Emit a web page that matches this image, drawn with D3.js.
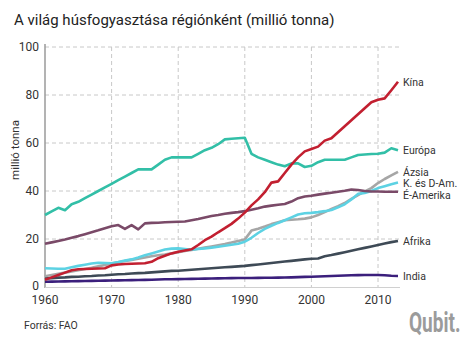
<!DOCTYPE html>
<html><head><meta charset="utf-8">
<script src="https://cdn.jsdelivr.net/npm/d3@7"></script>
<style>body{margin:0;background:#fff;}svg{display:block;font-family:Roboto,"Noto Sans",sans-serif;}</style>
</head><body>
<script>
const years = d3.range(1960, 2014);
const europe = [30,31.5,33,32,34.5,35.5,37,38.5,40,41.5,43,44.5,46,47.5,49,49,49,51,53,54,54,54,54,55.5,57,58,59.5,61.5,61.8,62,62.2,55.5,54,53,52,51,50.3,51.5,51.5,50,50.5,52,53,53,53,53,54,55,55.2,55.4,55.5,56,57.8,57];
const china = [3,4,5,6,7,7.4,7.5,7.6,7.7,7.8,9,9.4,9.6,9.7,9.8,9.9,10.5,12,13,14,14.7,15.2,15.7,17.5,19.5,21,22.8,24.5,26.3,28.5,31,34,36.5,39.5,43.5,44,47.5,51,54,56.5,57.5,58.5,61,62,64.5,67,69.5,72,74.5,77,78,78.6,82,85.5];
const northAm = [18,18.6,19.2,19.8,20.5,21.2,22,22.8,23.6,24.5,25.3,25.8,24.2,25.8,24,26.5,26.7,26.8,27,27.1,27.2,27.3,27.8,28.3,29,29.6,30,30.5,30.9,31.2,31.6,32.2,32.8,33.5,33.9,34.3,34.6,35.6,37,37.7,38,38.5,38.9,39.3,39.7,40.1,40.6,40.4,40,39.8,39.8,39.7,39.7,39.7];
const latinAm = [7.8,7.7,7.6,7.6,8.2,8.8,9.3,9.8,10.1,10,9.9,10.4,11,11.5,12.3,13.2,14,14.8,15.6,16,16.1,15.8,15.5,15.8,16.1,16.4,16.8,17.2,17.6,18,18.9,20.5,22.5,24.2,25.5,26.7,27.8,29,30.2,30.7,30.9,31.2,31.6,32.1,33.2,34.5,36.5,38.8,39.2,40,41.2,42,42.8,43.5];
const asia = [4.5,5,5.5,6,6.5,7,7.5,8,8.6,9.2,9.8,10.3,10.8,11.3,11.8,12.3,12.8,13.2,13.5,14,14.5,15,15.4,15.9,16.4,16.9,17.4,17.9,18.5,19.2,19.8,23.5,24.3,25.2,26.2,27,27.8,28,28.2,28.5,29,30,31.2,32.5,33.7,35,36.7,38.3,39.8,41.2,43.3,45,46.5,48];
const africa = [3.6,3.7,3.9,4.0,4.2,4.3,4.5,4.6,4.8,4.9,5.1,5.3,5.4,5.6,5.8,5.9,6.1,6.3,6.5,6.7,6.8,7.0,7.2,7.4,7.6,7.8,8.0,8.2,8.4,8.6,8.8,9.1,9.4,9.7,10.0,10.3,10.6,10.9,11.2,11.5,11.8,11.9,12.8,13.3,13.9,14.5,15.1,15.7,16.3,16.9,17.5,18.1,18.7,19.2];
const india = [2.2,2.25,2.3,2.35,2.4,2.45,2.5,2.55,2.6,2.65,2.7,2.75,2.8,2.85,2.9,2.95,3.0,3.1,3.2,3.25,3.3,3.35,3.4,3.45,3.5,3.55,3.6,3.65,3.7,3.72,3.75,3.78,3.8,3.83,3.86,3.9,3.95,4.0,4.1,4.2,4.3,4.4,4.5,4.6,4.7,4.8,4.9,4.95,5.0,5.0,5.0,4.9,4.7,4.6];
const seriesNames = ["India","Afrika","Ázsia","K. és D-Am.","É-Amerika","Európa","Kína"];
const seriesValues = [india, africa, asia, latinAm, northAm, europe, china];
const seriesColors = ["#3b1f7c","#3e4a56","#a6a6a6","#5dd2e3","#7a4a68","#32bfa7","#c21f30"];
const yTicks = [0,20,40,60,80,100];
const xTicks = [1960,1970,1980,1990,2000,2010];
const title = "A világ húsfogyasztása régiónként (millió tonna)";
const yTitle = "millió tonna";
const source = "Forrás: FAO";
const logo = "Qubit.";

const W = 468, H = 342;
const svg = d3.select("body").append("svg").attr("width", W).attr("height", H);
const x = d3.scaleLinear().domain([1960, 2013]).range([45, 398]);
const y = d3.scaleLinear().domain([0, 100]).range([287, 47]);

// grid
svg.append("g").selectAll("line").data(yTicks.filter(d => d > 0)).join("line")
  .attr("x1", 45).attr("x2", 400).attr("y1", d => y(d)).attr("y2", d => y(d))
  .attr("stroke", "#c8c8c8").attr("stroke-width", 1).attr("stroke-dasharray", "4,3");
svg.append("g").selectAll("line").data(xTicks.filter(d => d > 1960)).join("line")
  .attr("x1", d => x(d)).attr("x2", d => x(d)).attr("y1", 47).attr("y2", 287)
  .attr("stroke", "#c8c8c8").attr("stroke-width", 1).attr("stroke-dasharray", "4,3");
// axes lines
svg.append("line").attr("x1", 45).attr("x2", 45).attr("y1", 44).attr("y2", 288).attr("stroke", "#9a9a9a").attr("stroke-width", 1.5);
svg.append("line").attr("x1", 45).attr("x2", 400).attr("y1", 287.5).attr("y2", 287.5).attr("stroke", "#d0d0d0").attr("stroke-width", 1);

// tick labels
svg.append("g").selectAll("text").data(yTicks).join("text")
  .attr("x", 39).attr("y", d => y(d) - (d === 0 ? 1 : 0)).attr("dy", "0.36em").attr("text-anchor", "end")
  .attr("font-size", 12).attr("fill", "#333").text(d => d);
svg.append("g").selectAll("text").data(xTicks).join("text")
  .attr("x", d => x(d)).attr("y", 300).attr("dy", "0.36em").attr("text-anchor", "middle")
  .attr("font-size", 12).attr("fill", "#333").text(d => d);

// lines
const line = d3.line().x((d, i) => x(years[i])).y(d => y(d));
svg.append("g").selectAll("path").data(seriesValues).join("path")
  .attr("d", d => line(d)).attr("fill", "none")
  .attr("stroke", (d, i) => seriesColors[i]).attr("stroke-width", 2.6)
  .attr("stroke-linejoin", "round");

// labels with simple collision avoidance
const labs = seriesNames.map((n, i) => ({n, v: seriesValues[i][seriesValues[i].length - 1]}))
  .map(o => ({...o, py: y(o.v)})).sort((a, b) => a.py - b.py);
for (let i = 1; i < labs.length; i++) if (labs[i].py < labs[i-1].py + 11.5) labs[i].py = labs[i-1].py + 11.5;
svg.append("g").selectAll("text").data(labs).join("text")
  .attr("x", 403).attr("y", d => d.py).attr("dy", "0.36em")
  .attr("font-size", 10.5).attr("fill", "#333").text(d => d.n);

// titles
svg.append("text").attr("x", 14).attr("y", 25).attr("font-size", 15).attr("fill", "#222").text(title);
svg.append("text").attr("transform", "translate(19,150) rotate(-90)").attr("text-anchor", "middle")
  .attr("font-size", 11.5).attr("fill", "#333").text(yTitle);
svg.append("text").attr("x", 24).attr("y", 329).attr("font-size", 10.5).attr("fill", "#333").text(source);
svg.append("g").attr("transform", "translate(409,332) scale(0.68,1)")
  .append("text").attr("x", 0).attr("y", 0).attr("font-size", 28).attr("font-weight", 700)
  .attr("fill", "#9b9b9b").text(logo);
</script>
</body></html>
